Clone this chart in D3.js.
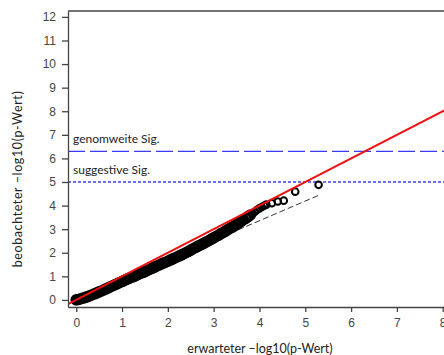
<!DOCTYPE html>
<html>
<head>
<meta charset="utf-8">
<script src="https://cdn.jsdelivr.net/npm/d3@7"></script>
<style>
  body { margin: 0; background: #fff; }
  text { font-family: Lato, "Liberation Sans", sans-serif; }
</style>
</head>
<body>
<div id="chart"></div>
<script>
var width = 444;
var height = 355;
var margin = { left: 68, right: -1, top: 11, bottom: 48 };

var expected = [0.00, 0.05, 0.10, 0.15, 0.20, 0.25, 0.30, 0.35, 0.40, 0.45,
    0.50, 0.55, 0.60, 0.65, 0.70, 0.75, 0.80, 0.85, 0.90, 0.95,
    1.00, 1.05, 1.10, 1.15, 1.20, 1.25, 1.30, 1.35, 1.40, 1.45,
    1.50, 1.55, 1.60, 1.65, 1.70, 1.75, 1.80, 1.85, 1.90, 1.95,
    2.00, 2.05, 2.10, 2.15, 2.20, 2.25, 2.30, 2.35, 2.40, 2.45,
    2.50, 2.55, 2.60, 2.65, 2.70, 2.75, 2.80, 2.85, 2.90, 2.95,
    3.00, 3.05, 3.10, 3.15, 3.20, 3.25, 3.30, 3.35, 3.40, 3.45,
    3.50, 3.55, 3.60, 3.65, 3.70, 3.75, 3.80, 3.85, 3.90, 3.95,
    4.00, 4.05, 4.10, 4.15, 4.27, 4.40, 4.53, 4.78, 5.29];
var observed = [0.00, 0.02, 0.05, 0.08, 0.11, 0.14, 0.18, 0.22, 0.26, 0.30,
    0.34, 0.38, 0.42, 0.47, 0.51, 0.56, 0.60, 0.65, 0.69, 0.74,
    0.78, 0.83, 0.87, 0.91, 0.95, 0.99, 1.03, 1.08, 1.12, 1.16,
    1.20, 1.25, 1.29, 1.34, 1.38, 1.43, 1.47, 1.52, 1.56, 1.60,
    1.64, 1.69, 1.73, 1.78, 1.82, 1.87, 1.91, 1.96, 2.01, 2.06,
    2.11, 2.17, 2.22, 2.27, 2.32, 2.37, 2.42, 2.47, 2.52, 2.58,
    2.63, 2.69, 2.74, 2.80, 2.85, 2.91, 2.97, 3.03, 3.08, 3.14,
    3.20, 3.27, 3.33, 3.40, 3.46, 3.53, 3.60, 3.67, 3.74, 3.82,
    3.88, 3.94, 3.99, 4.04, 4.10, 4.17, 4.21, 4.59, 4.88];

// untere Grenze (gestrichelt)
var boundX = [2.45, 5.31];
var boundY = [2.07, 4.45];

// Schwellen
var thresholds = [6.3, 5];
var thresholdLabels = ["genomweite Sig.", "suggestive Sig."];

var xTicks = [0, 1, 2, 3, 4, 5, 6, 7, 8];
var yTicks = [0, 1, 2, 3, 4, 5, 6, 7, 8, 9, 10, 11, 12];

var svg = d3.select("#chart")
    .append("svg")
    .attr("width", width)
    .attr("height", height);

var x = d3.scaleLinear().domain([-0.18, 8.05]).range([margin.left, width - margin.right]);
var y = d3.scaleLinear().domain([-0.30, 12.25]).range([height - margin.bottom, margin.top]);

svg.append("defs").append("clipPath").attr("id", "clip")
    .append("rect")
    .attr("x", margin.left).attr("y", margin.top)
    .attr("width", width - margin.left - margin.right)
    .attr("height", height - margin.top - margin.bottom);

var plot = svg.append("g").attr("clip-path", "url(#clip)");

// Schwellenlinien
plot.append("line")
    .attr("x1", x.range()[0]).attr("x2", x.range()[1])
    .attr("y1", y(thresholds[0])).attr("y2", y(thresholds[0]))
    .attr("stroke", "#3a3aff").attr("stroke-width", 1.2)
    .attr("stroke-dasharray", "17,5");
plot.append("line")
    .attr("x1", x.range()[0]).attr("x2", x.range()[1])
    .attr("y1", y(thresholds[1])).attr("y2", y(thresholds[1]))
    .attr("stroke", "#3d3dff").attr("stroke-width", 1.4)
    .attr("stroke-dasharray", "3,2");

svg.selectAll(".thrlabel")
    .data(thresholdLabels)
    .enter()
    .append("text")
    .attr("class", "thrlabel")
    .attr("x", margin.left + 5)
    .attr("y", function (d, i) { return y(thresholds[i]) - 8; })
    .attr("font-size", "12px")
    .attr("fill", "#222")
    .text(function (d) { return d; });

// gestrichelte Grenze
plot.append("line")
    .attr("x1", x(boundX[0])).attr("y1", y(boundY[0]))
    .attr("x2", x(boundX[1])).attr("y2", y(boundY[1]))
    .attr("stroke", "#333").attr("stroke-width", 1)
    .attr("stroke-dasharray", "6,3");

// Punkte
plot.selectAll("circle")
    .data(expected)
    .enter()
    .append("circle")
    .attr("cx", function (d) { return x(d); })
    .attr("cy", function (d, i) { return y(observed[i]); })
    .attr("r", function (d) { return d < 3.85 ? 4.4 : 3.3; })
    .attr("fill", "none")
    .attr("stroke", "#000")
    .attr("stroke-width", function (d) { return d < 3.85 ? 2.8 : 2; });

// Diagonale
plot.append("line")
    .attr("x1", x(-0.5)).attr("y1", y(-0.5))
    .attr("x2", x(9)).attr("y2", y(9))
    .attr("stroke", "#f01010").attr("stroke-width", 2);

// Achsen
var xAxis = svg.append("g")
    .attr("transform", "translate(0," + (height - margin.bottom) + ")")
    .call(d3.axisBottom(x).tickValues(xTicks).tickSize(5).tickPadding(6).tickSizeOuter(0));
var yAxis = svg.append("g")
    .attr("transform", "translate(" + margin.left + ",0)")
    .call(d3.axisLeft(y).tickValues(yTicks).tickSize(6).tickPadding(6).tickSizeOuter(0));

[xAxis, yAxis].forEach(function (ax) {
    ax.selectAll("path, line").attr("stroke", "#444").attr("stroke-width", 1.3);
    ax.selectAll("text").attr("font-size", "12px").attr("fill", "#444")
        .style("font-family", "'Liberation Sans', sans-serif");
});

// obere Rahmenlinie
svg.append("line")
    .attr("x1", margin.left).attr("x2", width)
    .attr("y1", margin.top).attr("y2", margin.top)
    .attr("stroke", "#444").attr("stroke-width", 1.3);

svg.append("text")
    .attr("x", 260).attr("y", 353)
    .attr("text-anchor", "middle")
    .attr("font-size", "12.5px")
    .attr("fill", "#222")
    .text("erwarteter \u2013log10(p-Wert)");

svg.append("text")
    .attr("transform", "translate(22,179) rotate(-90)")
    .attr("text-anchor", "middle")
    .attr("font-size", "12.5px")
    .attr("letter-spacing", "0.6px")
    .attr("fill", "#222")
    .text("beobachteter \u2013log10(p-Wert)");
</script>
</body>
</html>
